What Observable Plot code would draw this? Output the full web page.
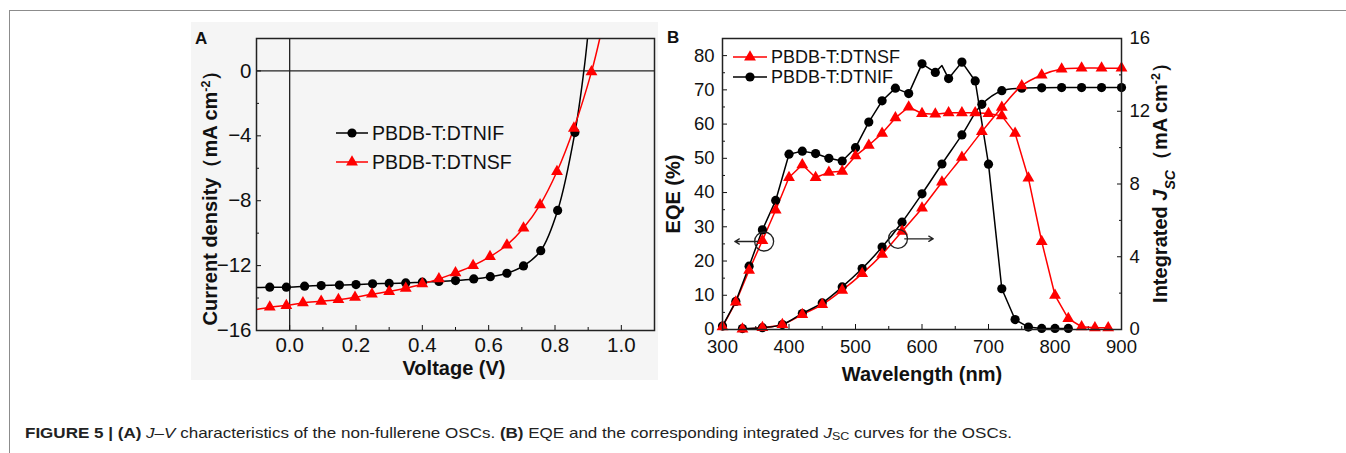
<!DOCTYPE html>
<html><head><meta charset="utf-8">
<script src="https://cdn.jsdelivr.net/npm/d3@7"></script>
<script src="https://cdn.jsdelivr.net/npm/@observablehq/plot@0.6"></script>
<style>
body{margin:0;background:#fff;font-family:"Liberation Sans",Arial,sans-serif;}
#wrap{position:relative;width:1346px;height:453px;overflow:hidden;background:#fff;}
#frame{position:absolute;left:9px;top:10px;width:1400px;height:500px;border-top:1.5px solid #8c8c8c;border-left:1.5px solid #8c8c8c;}
#bgA{position:absolute;left:191px;top:22px;width:467px;height:358px;background:#f5f5f5;}
#panelA{position:absolute;left:190px;top:25px;}
#panelB{position:absolute;left:660px;top:25px;}
#caption{position:absolute;left:25px;top:424px;font-size:15px;white-space:nowrap;color:#222;transform-origin:0 50%;}
#caption sub{font-size:11px;vertical-align:-2px;line-height:0;}
</style></head>
<body>
<div id="wrap">
  <div id="frame"></div>
  <div id="bgA"></div>
  <div id="panelA"></div>
  <div id="panelB"></div>
  <div id="caption"><b>FIGURE 5 | (A)</b> <i>J–V</i> characteristics of the non-fullerene OSCs. <b>(B)</b> EQE and the corresponding integrated <i>J</i><sub>SC</sub> curves for the OSCs.</div>
</div>
<script>
// ---------- Panel A data (J–V) ----------
const seriesNames = ["PBDB-T:DTNIF", "PBDB-T:DTNSF"];
const voltNif = [-0.06,-0.01,0.045,0.095,0.15,0.2,0.25,0.3,0.35,0.4,0.45,0.5,0.555,0.605,0.655,0.705,0.757,0.808,0.86];
const curNif  = [-13.33,-13.33,-13.27,-13.23,-13.2,-13.17,-13.12,-13.1,-13.07,-13.02,-12.98,-12.92,-12.82,-12.68,-12.47,-12.02,-11.08,-8.6,-3.8];
const voltNifCurve = [-0.1,-0.06,-0.01,0.045,0.095,0.15,0.2,0.25,0.3,0.35,0.4,0.45,0.5,0.555,0.605,0.655,0.705,0.757,0.808,0.86,0.887,0.898];
const curNifCurve  = [-13.35,-13.33,-13.33,-13.27,-13.23,-13.2,-13.17,-13.12,-13.1,-13.07,-13.02,-12.98,-12.92,-12.82,-12.68,-12.47,-12.02,-11.08,-8.6,-3.8,0,2];
const voltNsf = [-0.06,-0.01,0.04,0.095,0.147,0.197,0.248,0.3,0.35,0.4,0.45,0.5,0.553,0.604,0.655,0.705,0.755,0.806,0.857,0.91];
const curNsf  = [-14.56,-14.46,-14.3,-14.2,-14.1,-13.95,-13.76,-13.6,-13.4,-13.13,-12.82,-12.45,-12.0,-11.45,-10.73,-9.68,-8.25,-6.2,-3.53,-0.06];
const voltNsfCurve = [-0.1,-0.06,-0.01,0.04,0.095,0.147,0.197,0.248,0.3,0.35,0.4,0.45,0.5,0.553,0.604,0.655,0.705,0.755,0.806,0.857,0.91,0.935];
const curNsfCurve  = [-14.7,-14.56,-14.46,-14.3,-14.2,-14.1,-13.95,-13.76,-13.6,-13.4,-13.13,-12.82,-12.45,-12.0,-11.45,-10.73,-9.68,-8.25,-6.2,-3.53,-0.06,2];
const voltTicks = [0,0.2,0.4,0.6,0.8,1.0];
const voltMinor = [-0.1,0.1,0.3,0.5,0.7,0.9,1.1];
const curTicks = [-16,-12,-8,-4,0];
const curMinor = [-14,-10,-6,-2,2];

// ---------- Panel B data (EQE & integrated Jsc) ----------
const wlNif  = [300,320,340,360,380,400,420,440,460,480,500,520,540,560,580,600,620,640,660,680,700,720,740,760,780,800,820];
const eqeNif = [1.0,8.2,18.5,29.1,37.7,51.2,52.1,51.4,50.0,49.2,53.1,60.6,66.8,70.5,68.9,77.6,75.1,73.3,78.1,72.6,48.3,11.9,2.9,0.7,0.3,0.3,0.3];
const wlNifCurve  = [300,320,340,360,380,400,420,440,460,480,500,520,540,560,580,600,620,630,640,660,680,700,720,740,760,780,800,820];
const eqeNifCurve = [1.0,8.2,18.5,29.1,37.7,51.2,52.1,51.4,50.0,49.2,53.1,60.6,66.8,70.5,68.9,77.6,75.1,77.1,73.3,78.1,72.6,48.3,11.9,2.9,0.7,0.3,0.3,0.3];
const wlNsf  = [300,320,340,360,380,400,420,440,460,480,500,520,540,560,580,600,620,640,660,680,700,720,740,760,780,800,820,840,860,880];
const eqeNsf = [0.8,8.0,17.3,26.0,34.9,44.4,48.1,44.4,45.9,46.2,50.7,53.8,57.3,61.8,65.0,63.1,62.9,63.3,63.3,63.3,63.1,62.4,57.3,44.2,25.7,10.0,3.2,0.8,0.5,0.5];
const wlJsc  = [330,360,390,420,450,480,510,540,570,600,630,660,690,720,750,780,810,840,870,900];
const jscNif = [0.05,0.1,0.27,0.88,1.46,2.34,3.35,4.53,5.9,7.46,9.1,10.7,12.38,13.13,13.27,13.29,13.3,13.3,13.3,13.3];
const jscNsf = [0.02,0.1,0.27,0.82,1.37,2.16,3.07,4.13,5.4,6.67,8.1,9.47,10.88,12.21,13.4,13.99,14.32,14.37,14.37,14.37];
const wlTicks = [300,400,500,600,700,800,900];
const wlMinor = [350,450,550,650,750,850];
const eqeTicks = [0,10,20,30,40,50,60,70,80];
const eqeMinor = [5,15,25,35,45,55,65,75];
const jscTicks = [0,4,8,12,16];
const jscMinor = [2,6,10,14];
const eqeMax = 85, jscMax = 16;
// annotation: circles marking the curves with arrows toward their axes
const annotWl  = [362.6, 563.9];
const annotEqe = [25.7, 26.5];
const arrowFrom = [353, 574];
const arrowTo   = [318.5, 617];

const FONT = '"Liberation Sans", Arial, sans-serif';
const toRows = (xs, ys) => xs.map((x, i) => ({x, y: ys[i]}));
const k = eqeMax / jscMax;
const FS_A = 20.5, FS_B = 18.5;

// ---------- Panel A ----------
const A = Plot.plot({
  width: 470, height: 360,
  marginLeft: 66, marginRight: 6, marginTop: 13, marginBottom: 55,
  style: {background: "transparent", fontFamily: FONT, color: "#111", overflow: "visible"},
  x: {domain: [-0.1, 1.1]},
  y: {domain: [-16, 2]},
  marks: [
    Plot.ruleX([0], {stroke: "#222", strokeWidth: 1.3}),
    Plot.ruleY([0], {stroke: "#222", strokeWidth: 1.3}),
    Plot.axisX({ticks: voltTicks, tickFormat: d3.format(".1f"), tickSize: 0, tickPadding: 7, fontSize: FS_A, label: null}),
    Plot.axisX({ticks: voltTicks, tickFormat: () => "", tickSize: -5, label: null}),
    Plot.axisX({ticks: voltMinor, tickFormat: () => "", tickSize: -3, label: null}),
    Plot.axisY({ticks: curTicks, tickFormat: d => d === 0 ? "0" : "\u2212" + Math.abs(d), tickSize: 0, tickPadding: 5, fontSize: FS_A, label: null}),
    Plot.axisY({ticks: curTicks, tickFormat: () => "", tickSize: -5, label: null}),
    Plot.axisY({ticks: curMinor, tickFormat: () => "", tickSize: -3, label: null}),
    Plot.line(toRows(voltNifCurve, curNifCurve), {x: "x", y: "y", stroke: "#000", strokeWidth: 1.5, curve: "catmull-rom", clip: true}),
    Plot.line(toRows(voltNsfCurve, curNsfCurve), {x: "x", y: "y", stroke: "#ff0000", strokeWidth: 1.5, curve: "catmull-rom", clip: true}),
    Plot.dot(toRows(voltNif, curNif), {x: "x", y: "y", fill: "#000", r: 4.6}),
    Plot.dot(toRows(voltNsf, curNsf), {x: "x", y: "y", fill: "#ff0000", symbol: "triangle", r: 4.4}),
    Plot.frame({stroke: "#222", strokeWidth: 1.5})
  ]
});
document.getElementById("panelA").appendChild(A);

// ---------- Panel B ----------
const B = Plot.plot({
  width: 520, height: 360,
  marginLeft: 62, marginRight: 59, marginTop: 13, marginBottom: 56,
  style: {background: "transparent", fontFamily: FONT, color: "#111", overflow: "visible"},
  x: {domain: [300, 900]},
  y: {domain: [0, eqeMax]},
  marks: [
    Plot.axisX({ticks: wlTicks, tickSize: 0, tickPadding: 10, fontSize: FS_B, label: null}),
    Plot.axisX({ticks: wlTicks, tickFormat: () => "", tickSize: -5, label: null}),
    Plot.axisX({ticks: wlMinor, tickFormat: () => "", tickSize: -3, label: null}),
    Plot.axisY({ticks: eqeTicks, tickSize: 0, tickPadding: 8, fontSize: FS_B, label: null}),
    Plot.axisY({ticks: eqeTicks, tickFormat: () => "", tickSize: -5, label: null}),
    Plot.axisY({ticks: eqeMinor, tickFormat: () => "", tickSize: -3, label: null}),
    Plot.axisY({anchor: "right", ticks: jscTicks.map(v => v * k), tickFormat: d => String(Math.round(d / k)), tickSize: 0, tickPadding: 8, fontSize: FS_B, label: null}),
    Plot.axisY({anchor: "right", ticks: jscTicks.map(v => v * k), tickFormat: () => "", tickSize: -5, label: null}),
    Plot.axisY({anchor: "right", ticks: jscMinor.map(v => v * k), tickFormat: () => "", tickSize: -3, label: null}),
    Plot.line(toRows(wlNsf, eqeNsf), {x: "x", y: "y", stroke: "#ff0000", strokeWidth: 1.5}),
    Plot.line(toRows(wlJsc, jscNsf.map(v => v * k)), {x: "x", y: "y", stroke: "#ff0000", strokeWidth: 1.5, curve: "catmull-rom"}),
    Plot.line(toRows(wlNifCurve, eqeNifCurve), {x: "x", y: "y", stroke: "#000", strokeWidth: 1.5}),
    Plot.line(toRows(wlJsc, jscNif.map(v => v * k)), {x: "x", y: "y", stroke: "#000", strokeWidth: 1.5, curve: "catmull-rom"}),
    Plot.dot(toRows(wlNif, eqeNif), {x: "x", y: "y", fill: "#000", r: 4.6}),
    Plot.dot(toRows(wlJsc, jscNif.map(v => v * k)), {x: "x", y: "y", fill: "#000", r: 4.6}),
    Plot.dot(toRows(wlNsf, eqeNsf), {x: "x", y: "y", fill: "#ff0000", symbol: "triangle", r: 4.4}),
    Plot.dot(toRows(wlJsc, jscNsf.map(v => v * k)), {x: "x", y: "y", fill: "#ff0000", symbol: "triangle", r: 4.4}),
    Plot.dot(toRows(annotWl, annotEqe), {x: "x", y: "y", r: 9.5, stroke: "#222", strokeWidth: 1.3, fill: "none"}),
    Plot.arrow(arrowFrom.map((f, i) => ({x1: f, x2: arrowTo[i], y: annotEqe[i]})), {x1: "x1", x2: "x2", y1: "y", y2: "y", stroke: "#222", strokeWidth: 1.3, headLength: 6}),
    Plot.frame({stroke: "#222", strokeWidth: 1.5})
  ]
});
document.getElementById("panelB").appendChild(B);

// ---------- titles, panel letters and legends ----------
function addText(svg, x, y, opts) {
  const t = d3.select(svg).append("text")
    .attr("x", x).attr("y", y)
    .attr("font-family", FONT)
    .attr("font-size", opts.size)
    .attr("font-weight", opts.bold ? "bold" : "normal")
    .attr("fill", "#111")
    .attr("text-anchor", opts.anchor || "middle");
  if (opts.rotate) t.attr("transform", `rotate(${opts.rotate},${x},${y})`);
  opts.parts.forEach(p => {
    const s = t.append("tspan").text(p.t);
    if (p.italic) s.attr("font-style", "italic");
    if (p.sup) s.attr("baseline-shift", "super").attr("font-size", "0.62em");
    if (p.sub) s.attr("baseline-shift", "sub").attr("font-size", "0.7em");
  });
  return t;
}
function addLegendRow(svg, x1, x2, y, color, tri, label, size) {
  const g = d3.select(svg).append("g");
  g.append("line").attr("x1", x1).attr("x2", x2).attr("y1", y).attr("y2", y).attr("stroke", color).attr("stroke-width", 1.5);
  const cx = (x1 + x2) / 2;
  if (tri) g.append("path").attr("d", d3.symbol(d3.symbolTriangle, Math.PI * 4.4 * 4.4)()).attr("transform", `translate(${cx},${y})`).attr("fill", color);
  else g.append("circle").attr("cx", cx).attr("cy", y).attr("r", 4.6).attr("fill", color);
  g.append("text").attr("x", x2 + 4).attr("y", y).attr("dy", "0.36em")
    .attr("text-anchor", "start").attr("font-family", FONT).attr("font-size", size).attr("fill", "#111").text(label);
}

// Panel A
addText(A, 5, 19, {size: 17, bold: true, anchor: "start", parts: [{t: "A"}]});
addText(A, 264, 350, {size: 20, bold: true, parts: [{t: "Voltage (V)"}]});
addText(A, 27, 168, {size: 20, bold: true, rotate: -90, parts: [{t: "Current density（mA cm"}, {t: "-2", sup: true}, {t: "）"}]});
addLegendRow(A, 146, 178, 108, "#000", false, seriesNames[0], 19.5);
addLegendRow(A, 146, 178, 137, "#ff0000", true, seriesNames[1], 19.5);

// Panel B
addText(B, 7, 18, {size: 17, bold: true, anchor: "start", parts: [{t: "B"}]});
addText(B, 262, 356, {size: 20, bold: true, parts: [{t: "Wavelength (nm)"}]});
addText(B, 20, 169, {size: 20, bold: true, rotate: -90, parts: [{t: "EQE (%)"}]});
addText(B, 507, 153, {size: 20, bold: true, rotate: -90, parts: [{t: "Integrated "}, {t: "J", italic: true}, {t: "SC", italic: true, sub: true}, {t: "（mA cm"}, {t: "-2", sup: true}, {t: "）"}]});
addLegendRow(B, 73, 107, 32, "#ff0000", true, seriesNames[1], 18);
addLegendRow(B, 73, 107, 52, "#000", false, seriesNames[0], 18);

// caption width matched to the reference line length
const cap = document.getElementById("caption");
const cw = cap.getBoundingClientRect().width;
cap.style.transform = `scaleX(${987 / cw})`;
</script>
</body></html>
